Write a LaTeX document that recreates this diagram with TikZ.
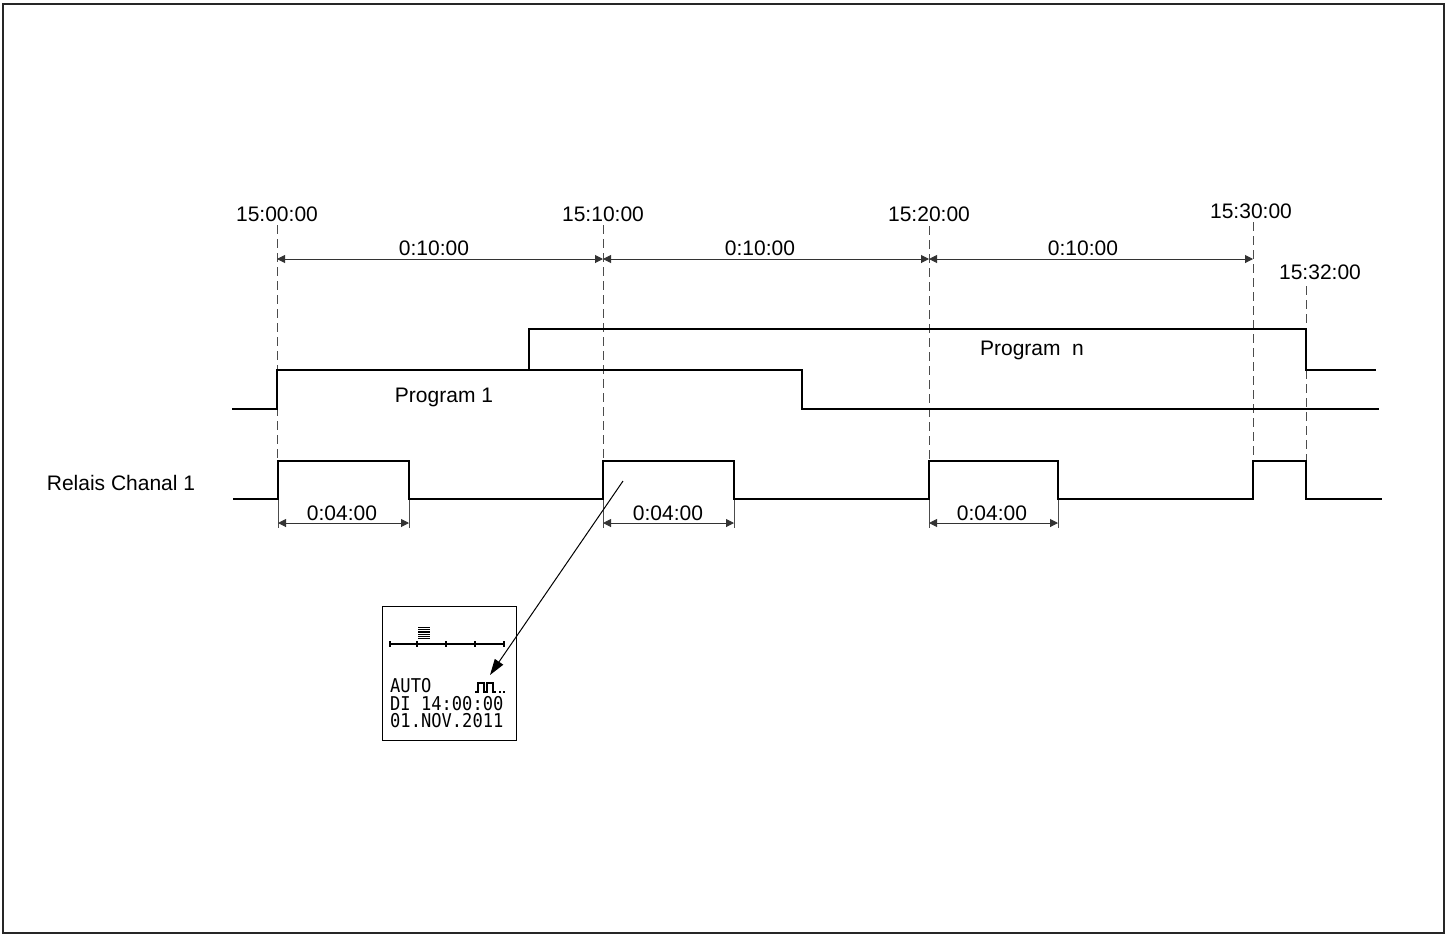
\documentclass[tikz,border=0pt]{standalone}
\usepackage{fontspec}
\setmainfont{Liberation Sans}
\newfontfamily\lcdfont{DejaVu Sans Mono}
\usetikzlibrary{arrows.meta}
\begin{document}
\begin{tikzpicture}[x=1pt,y=-1pt,
  sig/.style={line width=2.6pt,line join=miter},
  guide/.style={line width=1pt,draw=black!70,dash pattern=on 9pt off 5pt},
  ext/.style={line width=0.9pt,draw=black!70},
  dim/.style={line width=1pt,draw=black!80,{Triangle[length=8pt,width=8pt]}-{Triangle[length=8pt,width=8pt]}},
  lbl/.style={font=\fontsize{21}{24}\selectfont,inner sep=0pt,anchor=base},
  lcdtxt/.style={font=\lcdfont\fontsize{19}{20}\selectfont,inner sep=0pt,anchor=base west,xscale=0.9},
]
\useasboundingbox (0,0) rectangle (1445,935);
\draw[line width=2pt,draw=black!85] (3,3.7) rectangle (1443.5,933);

% time labels
\node[lbl] (t0) at (277,221) {15:00:00};
\node[lbl] (t1) at (603,221) {15:10:00};
\node[lbl] (t2) at (929,221) {15:20:00};
\node[lbl] (t3) at (1251,218) {15:30:00};
\node[lbl] (t4) at (1320,279) {15:32:00};

% guide coordinates
\coordinate (g0a) at (277,225); \coordinate (g0b) at (277,461);
\coordinate (g1a) at (603,225); \coordinate (g1b) at (603,461);
\coordinate (g2a) at (929,226); \coordinate (g2b) at (929,461);
\coordinate (g3a) at (1253,222); \coordinate (g3b) at (1253,461);
\coordinate (g4a) at (1306,286); \coordinate (g4b) at (1306,461);
\draw[guide] (g0a) -- (g0b);
\draw[guide] (g1a) -- (g1b);
\draw[guide] (g2a) -- (g2b);
\draw[guide] (g3a) -- (g3b);
\draw[guide] (g4a) -- (g4b);

% top dimensions
\coordinate (d0) at (277,259); \coordinate (d1) at (603,259);
\coordinate (d2) at (929,259); \coordinate (d3) at (1253,259);
\draw[dim] (d0) -- (d1);
\draw[dim] (d1) -- (d2);
\draw[dim] (d2) -- (d3);
\node[lbl] (m0) at (434,255) {0:10:00};
\node[lbl] (m1) at (760,255) {0:10:00};
\node[lbl] (m2) at (1083,255) {0:10:00};

% program 1
\coordinate (p1s) at (232,409);
\draw[sig] (p1s) -- (277,409) -- (277,370) -- (802,370) -- (802,409) -- (1379,409);
% program n
\draw[sig] (529,370) -- (529,329) -- (1306,329) -- (1306,370) -- (1376,370);
\node[lbl] (lp1) at (444,402) {Program 1};
\node[lbl] (lpn) at (1032,355) {Program\ \ n};

% relay
\node[lbl] (lr) at (121,490) {Relais Chanal 1};
\draw[sig] (233,499) -- (278,499) -- (278,461) -- (409,461) -- (409,499)
  -- (603,499) -- (603,461) -- (734,461) -- (734,499)
  -- (929,499) -- (929,461) -- (1058,461) -- (1058,499)
  -- (1253,499) -- (1253,461) -- (1306,461) -- (1306,499) -- (1382,499);

% lower dimensions
\foreach \a/\b/\c in {278/409/342, 603/734/668, 929/1058/992}{
  \draw[ext] (\a,500) -- (\a,528);
  \draw[ext] (\b,500) -- (\b,528);
  \draw[dim] (\a,523) -- (\b,523);
  \node[lbl] at (\c,520) {0:04:00};
}

% LCD display
\node[draw,line width=1pt,minimum width=134pt,minimum height=134pt,inner sep=0pt] (lcd) at (449.5,673) {};
\foreach \i in {0,...,6}{
  \draw[line width=0.9pt] (418,{627.5+1.8*\i}) -- (430,{627.5+1.8*\i});
}
\draw[line width=1.3pt] (390,644) -- (504,644);
\foreach \x in {390,417,446,475,504}{
  \draw[line width=1.3pt] (\x,641) -- (\x,647);
}
\node[lcdtxt] (l1) at (390,692) {AUTO};
\node[lcdtxt] (l2) at (390,710) {DI 14:00:00};
\node[lcdtxt] (l3) at (390,727) {01.NOV.2011};
\draw[line width=1.5pt] (475,692) -- (478,692) -- (478,683) -- (484,683) -- (484,692)
  -- (487,692) -- (487,683) -- (493,683) -- (493,692) -- (496,692);
\fill (498.5,690.5) rectangle (500.5,692.5);
\fill (502.5,690.5) rectangle (504.5,692.5);

% pointer arrow
\coordinate (as) at (623,481);
\coordinate (ae) at (490,675);
\draw[line width=1pt,-{Triangle[length=16pt,width=10pt]}] (as) -- (ae);
\end{tikzpicture}
\end{document}
